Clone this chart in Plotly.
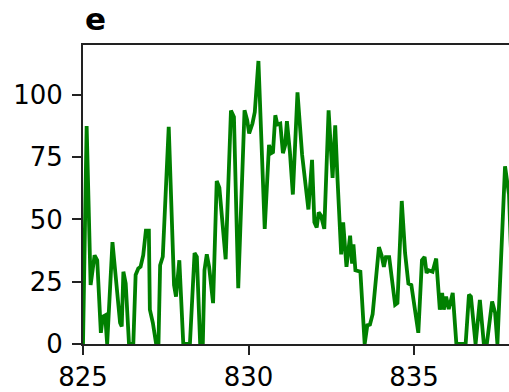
import plotly.graph_objects as go

# Wavelength positions (x) and intensity values (y)
wavelength = [
    825.00, 825.11, 825.23, 825.35, 825.43, 825.54, 825.60, 825.67, 825.73, 825.89,
    826.12, 826.17, 826.22, 826.29, 826.39, 826.52, 826.59, 826.67, 826.74, 826.82,
    826.90, 826.99, 827.02, 827.11, 827.21, 827.28, 827.33, 827.41, 827.59, 827.75,
    827.81, 827.91, 828.03, 828.23, 828.37, 828.44, 828.54, 828.62, 828.67, 828.74,
    828.81, 828.93, 829.04, 829.12, 829.31, 829.47, 829.56, 829.69, 829.88, 829.96,
    830.02, 830.12, 830.19, 830.30, 830.49, 830.62, 830.69, 830.74, 830.81, 830.87,
    830.96, 831.04, 831.11, 831.16, 831.25, 831.34, 831.48, 831.62, 831.81, 831.92,
    831.99, 832.06, 832.12, 832.19, 832.29, 832.42, 832.54, 832.62, 832.69, 832.80,
    832.86, 832.96, 833.07, 833.13, 833.17, 833.23, 833.38, 833.51, 833.59, 833.67,
    833.75, 833.94, 834.02, 834.09, 834.15, 834.25, 834.43, 834.50, 834.63, 834.73,
    834.83, 834.92, 835.13, 835.24, 835.32, 835.38, 835.44, 835.56, 835.67, 835.78,
    835.85, 835.90, 835.97, 836.05, 836.17, 836.28, 836.56, 836.66, 836.72, 836.86,
    836.99, 837.11, 837.20, 837.36, 837.45, 837.52, 837.75, 837.87, 837.95,
]
intensity = [
    0.0, 87.5, 23.7, 35.6, 33.6, 4.5, 11.0, 11.5, 0.0, 40.9,
    8.5, 7.0, 29.0, 24.3, 0.0, 0.0, 27.7, 30.3, 31.0, 35.6,
    45.5, 45.5, 13.8, 8.5, 0.0, 0.0, 31.6, 35.0, 87.2, 23.7,
    19.0, 33.6, 0.0, 0.0, 36.5, 35.0, 0.0, 0.0, 29.6, 36.0,
    31.0, 16.4, 65.4, 62.7, 34.0, 93.7, 91.1, 22.4, 93.8, 89.8,
    84.5, 88.5, 93.1, 113.6, 46.2, 79.9, 76.6, 77.0, 91.8, 88.1,
    88.5, 76.6, 79.9, 89.4, 77.2, 60.0, 101.0, 75.9, 54.0, 73.9,
    48.8, 46.8, 52.8, 51.5, 46.2, 93.8, 66.7, 87.8, 66.0, 36.0,
    48.8, 31.0, 43.5, 32.3, 40.0, 29.6, 29.0, 0.0, 7.5, 7.8,
    12.0, 38.9, 35.6, 31.0, 34.9, 34.9, 15.7, 16.4, 57.4, 36.5,
    24.3, 23.7, 4.5, 33.6, 34.9, 28.5, 29.6, 29.0, 34.3, 13.8,
    20.5, 13.8, 19.0, 14.0, 20.5, 0.0, 0.0, 19.8, 19.0, 0.0,
    17.7, 0.0, 0.0, 17.1, 12.5, 0.0, 71.3, 60.0, 30.0,
]

x_ticks = [825, 830, 835]
y_ticks = [0, 25, 50, 75, 100]
panel_label = "e"

fig = go.Figure(
    go.Scatter(
        x=wavelength, y=intensity, mode="lines",
        line=dict(color="#008000", width=3.8),
        cliponaxis=True, showlegend=False,
    )
)

axis_font = dict(family="DejaVu Sans", size=26, color="#000000")

fig.update_layout(
    width=509, height=392,
    margin=dict(l=83, r=0, t=45, b=44),
    paper_bgcolor="white", plot_bgcolor="white",
    xaxis=dict(
        range=[825, 837.87], tickvals=x_ticks, ticktext=[str(v) for v in x_ticks],
        showgrid=False, zeroline=False, showline=True, mirror=True,
        linecolor="#222222", linewidth=2, ticks="outside", ticklen=9,
        tickwidth=2, tickcolor="#222222", tickfont=axis_font,
    ),
    yaxis=dict(
        range=[0, 120], tickvals=y_ticks, ticktext=[str(v) for v in y_ticks],
        showgrid=False, zeroline=False, showline=True, mirror=False,
        linecolor="#222222", linewidth=2, ticks="outside", ticklen=9,
        tickwidth=2, tickcolor="#222222", tickfont=axis_font,
        ticklabelstandoff=4,
    ),
    annotations=[
        dict(
            text="<b>" + panel_label + "</b>", xref="paper", yref="paper",
            x=0, y=1, xanchor="left", yanchor="bottom", yshift=6, showarrow=False,
            font=dict(family="DejaVu Sans", size=31, color="#000000"),
        )
    ],
)

# Remove the default page margin so the figure fills the window exactly.
fig.write_html(
    "out.html",
    config={"displayModeBar": False},
    post_script="document.body.style.margin='0';document.body.style.overflow='hidden';",
)
